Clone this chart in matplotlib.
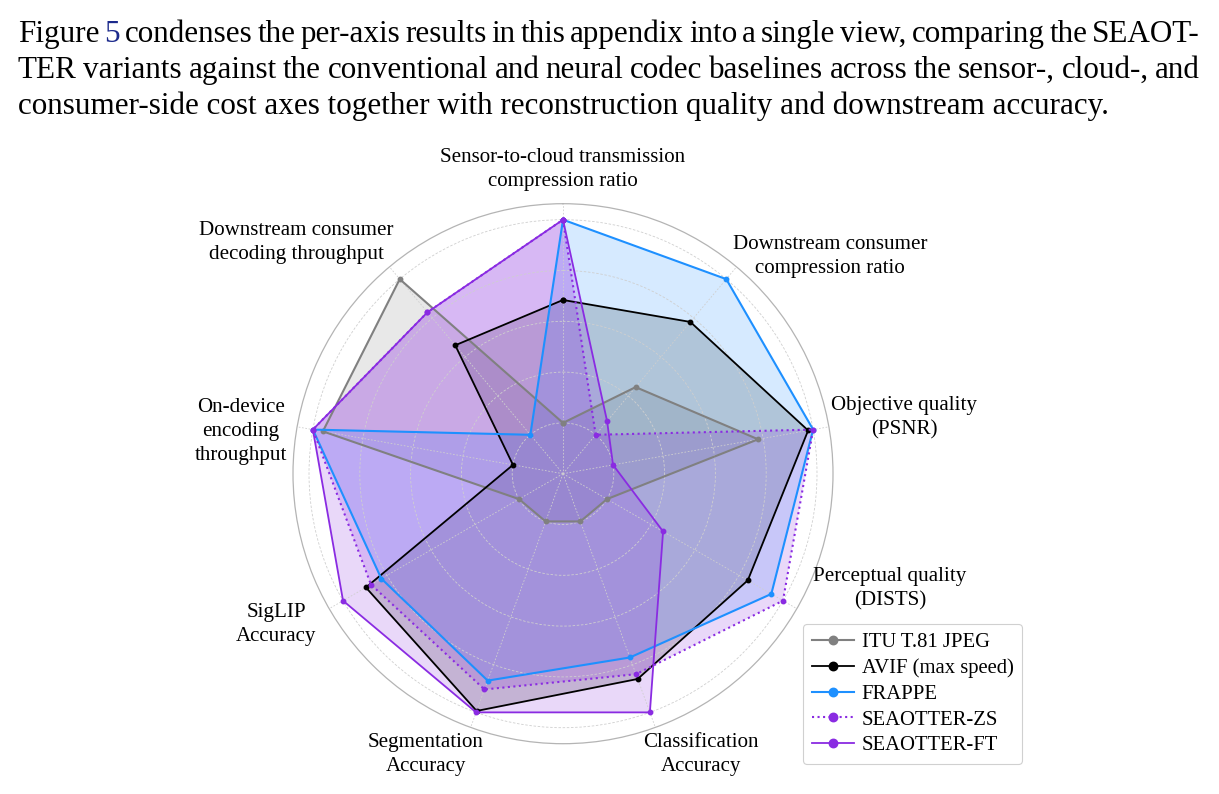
import numpy as np
import matplotlib
matplotlib.use("Agg")
import matplotlib.pyplot as plt
from matplotlib.transforms import IdentityTransform

# ---------------- data ----------------
axis_labels = [
    "Sensor-to-cloud transmission\ncompression ratio",
    "Downstream consumer\ncompression ratio",
    "Objective quality\n(PSNR)",
    "Perceptual quality\n(DISTS)",
    "Classification\nAccuracy",
    "Segmentation\nAccuracy",
    "SigLIP\nAccuracy",
    "On-device\nencoding\nthroughput",
    "Downstream consumer\ndecoding throughput",
]
series_names = ["ITU T.81 JPEG", "AVIF (max speed)", "FRAPPE", "SEAOTTER-ZS", "SEAOTTER-FT"]
jpeg        = [0.20, 0.445, 0.78, 0.20, 0.20, 0.20, 0.20, 0.96, 1.00]
avif        = [0.684, 0.78, 0.98, 0.84, 0.86, 0.994, 0.896, 0.20, 0.66]
frappe      = [1.00, 1.00, 1.00, 0.947, 0.77, 0.867, 0.826, 1.00, 0.20]
seaotter_zs = [1.00, 0.20, 1.00, 1.00, 0.84, 0.904, 0.873, 1.00, 0.83]
seaotter_ft = [1.00, 0.27, 0.20, 0.455, 1.00, 1.00, 1.00, 1.00, 0.83]
radial_ticks = [0.2, 0.4, 0.6, 0.8, 1.0]

para_line1 = "Figure 5 condenses the per-axis results in this appendix into a single view, comparing the SEAOT-"
para_line2 = "TER variants against the conventional and neural codec baselines across the sensor-, cloud-, and"
para_line3 = "consumer-side cost axes together with reconstruction quality and downstream accuracy."

# ---------------- style ----------------
W, H = 1219, 794
SERIF = ["Liberation Serif", "DejaVu Serif"]
colors = ["#808080", "#000000", "#1E90FF", "#8A2BE2", "#8A2BE2"]
styles = [":" if n.endswith("ZS") else "-" for n in series_names]
lws = [1.5, 1.3, 1.5, 1.5, 1.3]

fig = plt.figure(figsize=(W / 100, H / 100), dpi=100)
renderer = fig.canvas.get_renderer()


def text_width(s, size):
    t = fig.text(0, 0, s, fontsize=size, family=SERIF)
    w = t.get_window_extent(renderer).width
    t.remove()
    return w


def fit_size(s, target_px, ref=20.0):
    return ref * target_px / text_width(s, ref)


# ---------------- paragraph ----------------
psize = fit_size(para_line3, 1089)
x_left, x_right = 18, 1200
baselines = [42, 78, 114]


def draw_justified(line, ybase, justify=True):
    words = line.split(" ")
    if not justify:
        fig.text(x_left, H - ybase, line, fontsize=psize, family=SERIF,
                 va="baseline", ha="left", transform=IdentityTransform())
        return
    widths = [text_width(w, psize) for w in words]
    gap = (x_right - x_left - sum(widths)) / (len(words) - 1)
    x = x_left
    for w, wd in zip(words, widths):
        col = "#1c2a8c" if w == "5" else "black"
        fig.text(x, H - ybase, w, fontsize=psize, family=SERIF, color=col,
                 va="baseline", ha="left", transform=IdentityTransform())
        x += wd + gap


draw_justified(para_line1, baselines[0])
draw_justified(para_line2, baselines[1])
draw_justified(para_line3, baselines[2], justify=False)

# ---------------- radar ----------------
cx, cy, rpx = 563, 473.7, 270
ax = fig.add_axes([(cx - rpx) / W, (H - cy - rpx) / H, 2 * rpx / W, 2 * rpx / H],
                  projection="polar")
ax.set_theta_offset(np.pi / 2)
ax.set_theta_direction(-1)
n = len(axis_labels)
theta = list(np.linspace(0, 2 * np.pi, n, endpoint=False))
ax.set_xticks(theta)
ax.set_xticklabels([])
ax.set_yticks(radial_ticks)
ax.set_yticklabels([])
ax.set_ylim(0, 1.063)
ax.tick_params(length=0)
ax.xaxis.grid(True, color="#cfcfcf", linestyle=(0, (2, 2)), linewidth=0.6)
ax.yaxis.grid(True, color="#cfcfcf", linestyle=(0, (3, 2)), linewidth=0.6)
ax.spines["polar"].set_color("#b4b4b4")
ax.spines["polar"].set_linewidth(0.9)
ax.set_facecolor("white")

all_series = [jpeg, avif, frappe, seaotter_zs, seaotter_ft]
for vals, name, c, ls, lw in zip(all_series, series_names, colors, styles, lws):
    t = theta + theta[:1]
    v = list(vals) + list(vals[:1])
    ax.fill(t, v, color=c, alpha=0.18, lw=0)
    ax.plot(t, v, color=c, linestyle=ls, linewidth=lw, marker="o", markersize=3.2,
            label=name)

# axis labels placed around the circle (angle in degrees ccw from east, radius)
label_pos = [(90, 1.196), (39.2, 1.356), (9.3, 1.36), (-19.4, 1.365), (-63.8, 1.23),
             (-116, 1.23), (-152.2, 1.277), (172.6, 1.28), (139, 1.39)]
lsize = fit_size("Sensor-to-cloud transmission", 245)
lspacing = 25 / (lsize * 100 / 72) * 0.86 * 25 / 20 * 1.06
for lab, (a, r) in zip(axis_labels, label_pos):
    ax.text(np.deg2rad(90 - a), r, lab, fontsize=lsize, family=SERIF,
            ha="center", va="center", multialignment="center",
            linespacing=lspacing)

# legend
legsize = fit_size("AVIF (max speed)", 152)
leg_px = legsize * 100 / 72
leg = fig.legend(loc="lower left", bbox_to_anchor=(803 / W, 30 / H),
                 bbox_transform=fig.transFigure, borderaxespad=0,
                 prop={"family": SERIF, "size": legsize}, markerscale=1.9,
                 handlelength=42 / leg_px, labelspacing=0.31, frameon=True, fancybox=True,
                 edgecolor="#d0d0d0", framealpha=1.0, borderpad=0.42,
                 handletextpad=8 / leg_px)
leg.get_frame().set_linewidth(0.8)

fig.savefig("out.png", dpi=100)
